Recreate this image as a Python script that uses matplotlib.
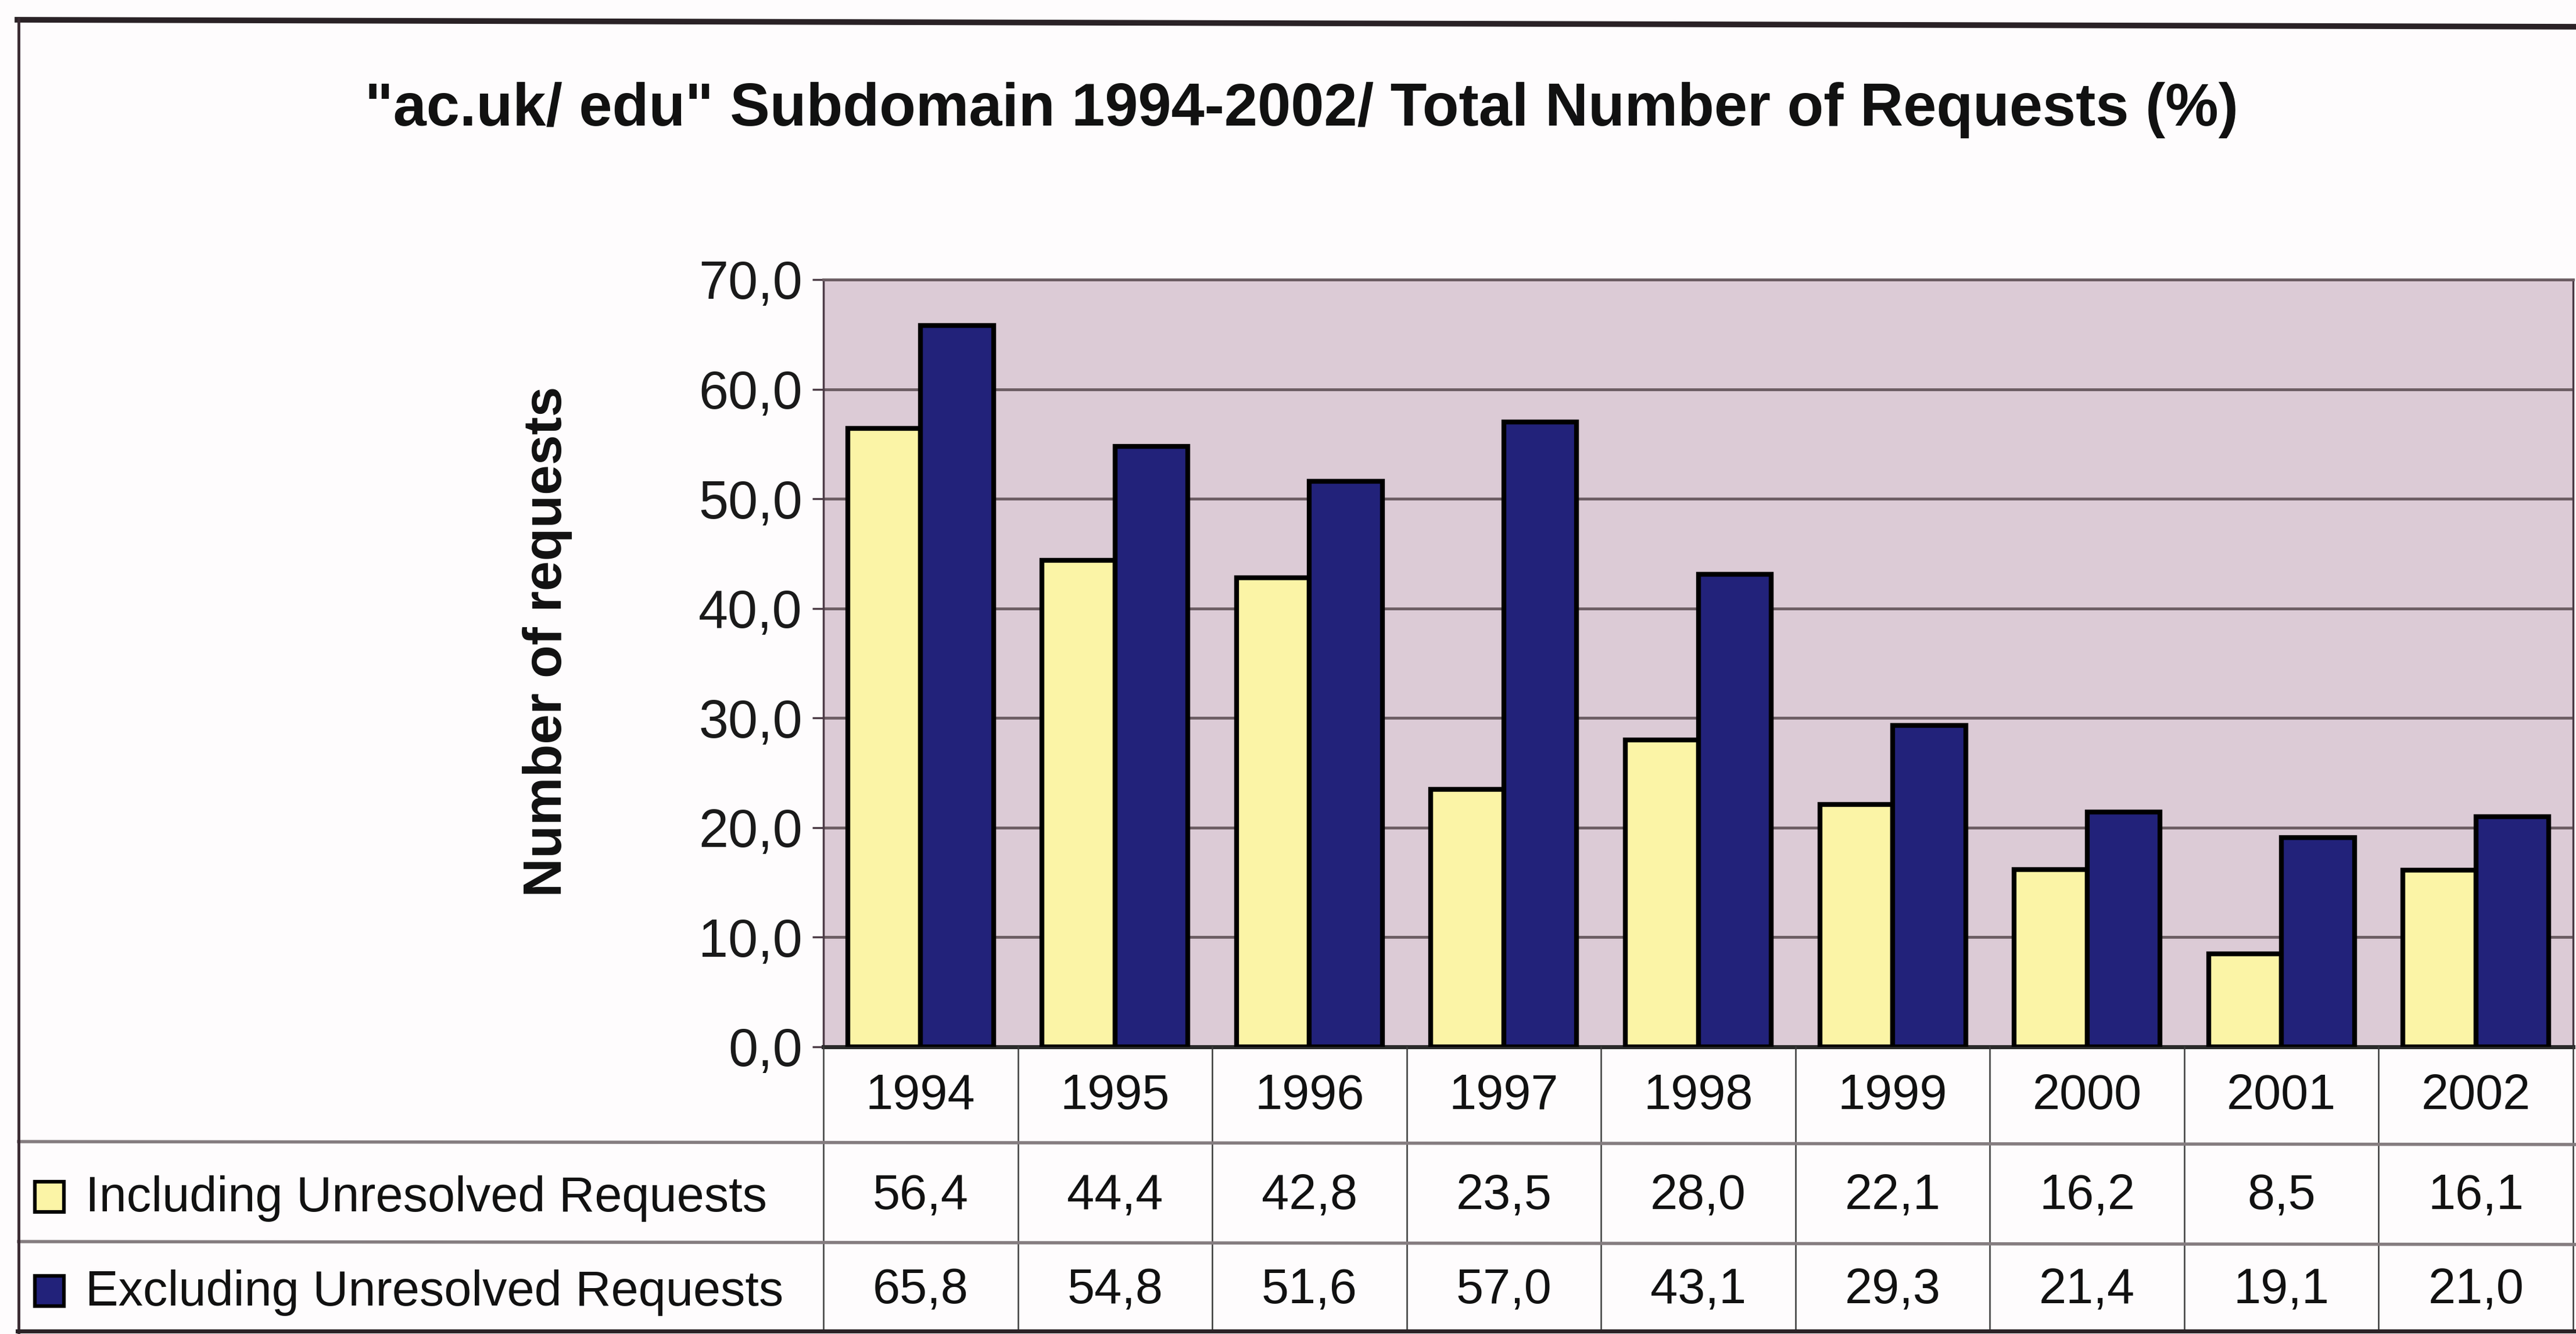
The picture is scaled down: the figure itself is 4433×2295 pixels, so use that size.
import matplotlib
matplotlib.use("Agg")
import matplotlib.pyplot as plt
from matplotlib.patches import Rectangle
from matplotlib.lines import Line2D
from matplotlib.ticker import FuncFormatter
from matplotlib.transforms import blended_transform_factory
import numpy as np

plt.rcParams['font.family'] = ['Liberation Sans', 'DejaVu Sans']

# data
years = ['1994', '1995', '1996', '1997', '1998', '1999', '2000', '2001', '2002']
including = [56.4, 44.4, 42.8, 23.5, 28.0, 22.1, 16.2, 8.5, 16.1]
excluding = [65.8, 54.8, 51.6, 57.0, 43.1, 29.3, 21.4, 19.1, 21.0]
series_names = ['Including Unresolved Requests', 'Excluding Unresolved Requests']

title = '"ac.uk/ edu" Subdomain 1994-2002/ Total Number of Requests (%)'
ylabel = 'Number of requests'

yellow = '#fbf4a6'
navy = '#22227a'
plot_bg = '#dccbd6'
grid_col = '#6c5d63'

W, H = 4433, 2295
fig = plt.figure(figsize=(W / 100, H / 100), dpi=100)
fig.patch.set_facecolor('#fefcfd')


def fx(px):
    return px / W


def fy(py):
    return 1 - py / H


# plot area in pixels
left, right, top, bottom = 1417, 4428, 481, 1801
ax = fig.add_axes([fx(left), fy(bottom), fx(right - left), (bottom - top) / H])
ax.set_facecolor(plot_bg)

x = np.arange(len(years))
bw = 0.375
ax.bar(x - bw / 2, including, bw, color=yellow, edgecolor='black', linewidth=6, zorder=3)
ax.bar(x + bw / 2, excluding, bw, color=navy, edgecolor='black', linewidth=6, zorder=3)

ax.set_xlim(-0.5, len(years) - 0.5)
ax.set_ylim(0, 70)
ax.set_yticks(np.arange(0, 71, 10))
ax.yaxis.set_major_formatter(FuncFormatter(lambda v, p: f"{v:.1f}".replace('.', ',')))
ax.set_xticks([])
ax.tick_params(axis='y', direction='out', length=14, width=2.5, color='#4a3a44',
               labelsize=66, pad=12, labelcolor='#1a1a1a')

ax.yaxis.grid(True, color=grid_col, linewidth=3.5)
ax.set_axisbelow(True)
for side in ['left', 'right']:
    ax.spines[side].set_color('#4a3a44')
    ax.spines[side].set_linewidth(2.5)
ax.spines['top'].set_color(grid_col)
ax.spines['top'].set_linewidth(3.5)
ax.spines['bottom'].set_color('#2a2a2a')
ax.spines['bottom'].set_linewidth(5)

# title and y label
fig.text(fx(2240), fy(190), title, ha='center', va='center', fontsize=74,
         fontweight='bold', color='#111111')
fig.text(fx(942), fy(1104), ylabel, ha='center', va='center', rotation=90,
         fontsize=67, fontweight='bold', color='#111111')

# data table below the plot
trans = blended_transform_factory(ax.transData, fig.transFigure)
row_lines = [1964, 2136]
row_mid = [1886, 2058, 2220]
fmt = lambda v: f"{v:.1f}".replace('.', ',')

for i, yr in enumerate(years):
    fig.text(x[i], fy(row_mid[0]), yr, transform=trans, ha='center', va='center',
             fontsize=61, color='#111111')
    fig.text(x[i], fy(row_mid[1]), fmt(including[i]), transform=trans, ha='center',
             va='center', fontsize=61, color='#111111')
    fig.text(x[i], fy(row_mid[2]), fmt(excluding[i]), transform=trans, ha='center',
             va='center', fontsize=61, color='#111111')

# column separators
for b in np.arange(len(years) + 1) - 0.5:
    fig.add_artist(Line2D([b, b], [fy(bottom), fy(2290)], transform=trans,
                          color='#3a3a3a', linewidth=1.8))
# row separators
for ry in row_lines:
    fig.add_artist(Line2D([fx(32), 1], [fy(ry), fy(ry + 5)], color='#857d80',
                          linewidth=4))

# legend keys + labels in the table
key_cols = [yellow, navy]
for name, col, ym in zip(series_names, key_cols, row_mid[1:]):
    fig.add_artist(Rectangle((fx(60), fy(ym + 27)), fx(50), 52 / H, facecolor=col,
                             edgecolor='black', linewidth=4.5, transform=fig.transFigure))
    fig.text(fx(147), fy(ym + 4), name, ha='left', va='center', fontsize=61,
             color='#111111')

# outer frame of the scanned chart
fig.add_artist(Line2D([fx(30), 1], [fy(34), fy(46)], color='#2a2226', linewidth=7))
fig.add_artist(Line2D([fx(32), fx(32)], [fy(33), fy(2292)], color='#3a2a32', linewidth=3.5))
fig.add_artist(Line2D([fx(30), 1], [fy(2290), fy(2290)], color='#2a2226', linewidth=5))

fig.savefig('out.png', dpi=100, facecolor=fig.get_facecolor())
